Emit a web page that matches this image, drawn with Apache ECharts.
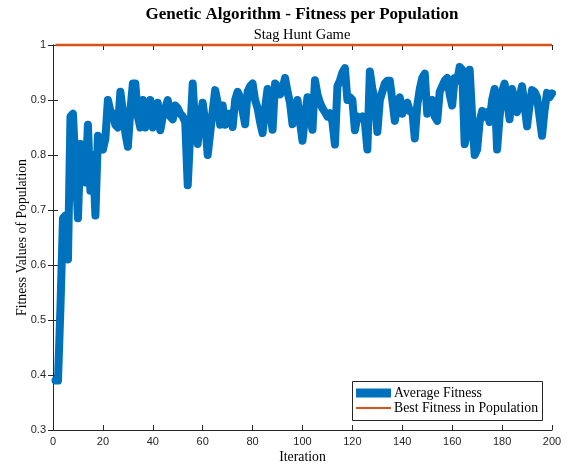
<!DOCTYPE html>
<html>
<head>
<meta charset="utf-8">
<script src="https://cdn.jsdelivr.net/npm/echarts@6/dist/echarts.min.js"></script>
<style>
html,body{margin:0;padding:0;background:#fff;}
#chart{width:575px;height:466px;}
</style>
</head>
<body>
<div id="chart"></div>
<script>
const xTicks = [0, 20, 40, 60, 80, 100, 120, 140, 160, 180, 200];
const yTicks = [0.3, 0.4, 0.5, 0.6, 0.7, 0.8, 0.9, 1];

const averageFitness = [
  0.39, 0.39, 0.525, 0.685, 0.69, 0.61, 0.87, 0.875, 0.78, 0.685,
  0.82, 0.80, 0.75, 0.855, 0.735, 0.80, 0.69, 0.835, 0.815, 0.81,
  0.83, 0.90, 0.88, 0.875, 0.855, 0.85, 0.915, 0.88, 0.84, 0.815,
  0.88, 0.93, 0.93, 0.87, 0.85, 0.90, 0.85, 0.87, 0.90, 0.85,
  0.875, 0.895, 0.845, 0.87, 0.885, 0.90, 0.87, 0.865, 0.89, 0.885,
  0.875, 0.87, 0.86, 0.745, 0.84, 0.93, 0.85, 0.82, 0.87, 0.895,
  0.86, 0.80, 0.84, 0.88, 0.918, 0.895, 0.855, 0.89, 0.855, 0.875,
  0.875, 0.851, 0.90, 0.915, 0.905, 0.88, 0.856, 0.915, 0.925, 0.93,
  0.90, 0.885, 0.86, 0.84, 0.885, 0.92, 0.88, 0.846, 0.93, 0.925,
  0.91, 0.92, 0.94, 0.915, 0.895, 0.856, 0.88, 0.90, 0.86, 0.826,
  0.87, 0.905, 0.87, 0.846, 0.936, 0.91, 0.895, 0.885, 0.878, 0.87,
  0.876, 0.86, 0.819, 0.925, 0.935, 0.95, 0.958, 0.90, 0.905, 0.90,
  0.845, 0.87, 0.867, 0.87, 0.86, 0.81, 0.952, 0.92, 0.90, 0.842,
  0.90, 0.915, 0.93, 0.935, 0.935, 0.90, 0.862, 0.89, 0.905, 0.875,
  0.89, 0.895, 0.88, 0.88, 0.83, 0.89, 0.92, 0.94, 0.948, 0.875,
  0.89, 0.90, 0.87, 0.862, 0.915, 0.925, 0.935, 0.94, 0.91, 0.89,
  0.94, 0.935, 0.96, 0.955, 0.82, 0.84, 0.955, 0.87, 0.80, 0.81,
  0.86, 0.88, 0.87, 0.878, 0.86, 0.90, 0.92, 0.81, 0.87, 0.915,
  0.93, 0.90, 0.865, 0.92, 0.895, 0.878, 0.905, 0.925, 0.89, 0.852,
  0.89, 0.918, 0.915, 0.905, 0.87, 0.835, 0.88, 0.913, 0.905, 0.912
];

const bestFitness = [
  1,1,1,1,1,1,1,1,1,1, 1,1,1,1,1,1,1,1,1,1, 1,1,1,1,1,1,1,1,1,1, 1,1,1,1,1,1,1,1,1,1,
  1,1,1,1,1,1,1,1,1,1, 1,1,1,1,1,1,1,1,1,1, 1,1,1,1,1,1,1,1,1,1, 1,1,1,1,1,1,1,1,1,1,
  1,1,1,1,1,1,1,1,1,1, 1,1,1,1,1,1,1,1,1,1, 1,1,1,1,1,1,1,1,1,1, 1,1,1,1,1,1,1,1,1,1,
  1,1,1,1,1,1,1,1,1,1, 1,1,1,1,1,1,1,1,1,1, 1,1,1,1,1,1,1,1,1,1, 1,1,1,1,1,1,1,1,1,1,
  1,1,1,1,1,1,1,1,1,1, 1,1,1,1,1,1,1,1,1,1, 1,1,1,1,1,1,1,1,1,1, 1,1,1,1,1,1,1,1,1,1
];

const iterations = averageFitness.map((_, i) => i + 1);

const serif = '"Liberation Serif", "Times New Roman", serif';
const sans = '"Liberation Sans", Arial, Helvetica, sans-serif';
const axisColor = '#262626';

const chart = echarts.init(document.getElementById('chart'), null, {renderer: 'canvas'});

const commonAxis = {
  axisLine: {show: true, lineStyle: {color: axisColor, width: 1}},
  axisTick: {show: true, inside: true, length: 5, lineStyle: {color: axisColor, width: 1}},
  splitLine: {show: false}
};

chart.setOption({
  animation: false,
  backgroundColor: '#ffffff',
  title: [
    {
      text: 'Genetic Algorithm - Fitness per Population',
      left: 302, top: 6, padding: 0, textAlign: 'center',
      textStyle: {fontFamily: serif, fontWeight: 'bold', fontSize: 17, color: '#000'}
    },
    {
      text: 'Stag Hunt Game',
      left: 302, top: 28, padding: 0, textAlign: 'center',
      textStyle: {fontFamily: serif, fontWeight: 'normal', fontSize: 14.5, color: '#000'}
    }
  ],
  grid: {left: 53, right: 23, top: 45, bottom: 36, containLabel: false, outerBoundsMode: 'none'},
  xAxis: [
    Object.assign({
      type: 'value', position: 'bottom', min: 0, max: 200, interval: 20,
      name: 'Iteration', nameLocation: 'middle', nameGap: 20, nameMoveOverlap: false,
      nameTextStyle: {fontFamily: serif, fontSize: 13.75, color: '#000'},
      axisLabel: {show: true, margin: 6, fontFamily: sans, fontSize: 11, color: axisColor}
    }, commonAxis),
    Object.assign({
      type: 'value', position: 'top', min: 0, max: 200, interval: 20,
      axisLabel: {show: false}
    }, commonAxis)
  ],
  yAxis: [
    Object.assign({
      type: 'value', position: 'left', min: 0.3, max: 1, interval: 0.1,
      name: 'Fitness Values of Population', nameLocation: 'middle', nameGap: 24, nameMoveOverlap: false,
      nameTextStyle: {fontFamily: serif, fontSize: 13.75, color: '#000'},
      axisLabel: {show: true, margin: 7, fontFamily: sans, fontSize: 11, color: axisColor,
        formatter: v => String(+v.toFixed(1))}
    }, commonAxis),
    Object.assign({
      type: 'value', position: 'right', min: 0.3, max: 1, interval: 0.1,
      axisLabel: {show: false}
    }, commonAxis)
  ],
  legend: [
    {
      data: [{name: 'Average Fitness', icon: 'rect'}],
      left: 356, top: 386, padding: 0, itemWidth: 35, itemHeight: 9,
      selectedMode: false, z: 10,
      textStyle: {fontFamily: serif, fontSize: 13.75, color: '#000', padding: [0, 0, 0, -2]}
    },
    {
      data: [{name: 'Best Fitness in Population', icon: 'rect'}],
      left: 356, top: 401, padding: 0, itemWidth: 35, itemHeight: 2,
      selectedMode: false, z: 10,
      textStyle: {fontFamily: serif, fontSize: 13.75, color: '#000', padding: [0, 0, 0, -2]}
    }
  ],
  graphic: [
    {
      type: 'rect', left: 352, top: 381, z: 5, silent: true,
      shape: {width: 190, height: 39},
      style: {fill: '#ffffff', stroke: '#262626', lineWidth: 1}
    }
  ],
  series: [
    {
      name: 'Average Fitness', type: 'line',
      data: iterations.map((x, i) => [x, averageFitness[i]]),
      showSymbol: false, symbol: 'none', clip: true,
      itemStyle: {color: '#0072BD'},
      lineStyle: {color: '#0072BD', width: 8, cap: 'round', join: 'round'},
      z: 2
    },
    {
      name: 'Best Fitness in Population', type: 'line',
      data: iterations.map((x, i) => [x, bestFitness[i]]),
      showSymbol: false, symbol: 'none', clip: false,
      itemStyle: {color: '#D95319'},
      lineStyle: {color: '#D95319', width: 2.5},
      z: 3
    }
  ]
});
</script>
</body>
</html>
